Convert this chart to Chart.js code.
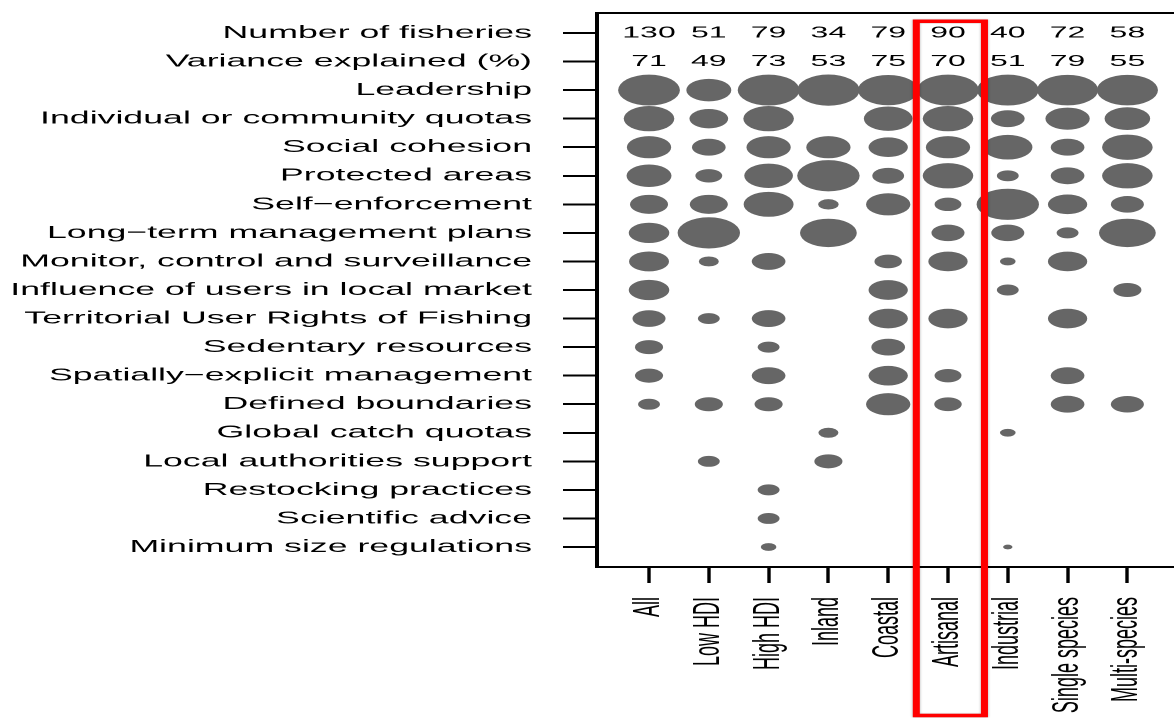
<!DOCTYPE html>
<html><head><meta charset="utf-8">
<script src="https://cdn.jsdelivr.net/npm/chart.js@4/dist/chart.umd.min.js"></script>
<style>
html,body{margin:0;padding:0;background:#fff;overflow:hidden;width:1174px;height:718px;}
#wrap{position:absolute;left:0;top:0;width:592px;height:718px;transform:scaleX(2);transform-origin:0 0;}
canvas{display:block;}
</style></head><body>
<div id="wrap"><canvas id="c" width="592" height="718"></canvas></div>
<script>
// ---- data ----
const groups = ["All","Low HDI","High HDI","Inland","Coastal","Artisanal","Industrial","Single species","Multi-species"];
const rowLabels = ["Number of fisheries","Variance explained (%)","Leadership","Individual or community quotas",
  "Social cohesion","Protected areas","Self\u2212enforcement","Long\u2212term management plans",
  "Monitor, control and surveillance","Influence of users in local market","Territorial User Rights of Fishing",
  "Sedentary resources","Spatially\u2212explicit management","Defined boundaries","Global catch quotas",
  "Local authorities support","Restocking practices","Scientific advice","Minimum size regulations"];
const nFisheries = [130,51,79,34,79,90,40,72,58];
const varianceExplained = [71,49,73,53,75,70,51,79,55];
const highlighted = "Artisanal";
// relative importance (0-100) of each factor, in rowLabels order from "Leadership"; 0 = not selected
const impAll        = [99,81,71,72,61,65,64,65,53,45,45,35,0,0,0,0,0];
const impLowHDI     = [72,62,54,43,61,100,32,0,35,0,0,45,0,35,0,0,0];
const impHighHDI    = [99,81,71,78,80,0,54,0,54,35,54,45,0,0,35,35,25];
const impInland     = [100,0,71,100,33,91,0,0,0,0,0,0,32,45,0,0,0];
const impCoastal    = [97,78,63,51,71,0,44,63,63,54,63,71,0,0,0,0,0];
const impArtisanal  = [99,81,71,81,43,53,63,0,63,0,43,44,0,0,0,0,0];
const impIndustrial = [99,54,79,35,100,53,25,35,0,0,0,0,25,0,0,0,15];
const impSingle     = [98,71,54,54,63,35,63,0,63,0,54,54,0,0,0,0,0];
const impMulti      = [98,73,81,81,53,91,0,45,0,0,0,53,0,0,0,0,0];

const columns = [impAll,impLowHDI,impHighHDI,impInland,impCoastal,impArtisanal,impIndustrial,impSingle,impMulti];
const MAX_R = 15.6;
const points = [];
columns.forEach((col, ci) => col.forEach((v, ri) => {
  if (v > 0) points.push({x: ci, y: ri + 2, r: v / 100 * MAX_R});
}));

const FONT = '"Liberation Sans", Arial, Helvetica, sans-serif';

const overlay = {
  id: 'overlay',
  afterDraw(chart) {
    const {ctx, chartArea: a, scales: {x, y}} = chart;
    ctx.save();
    ctx.strokeStyle = '#000'; ctx.lineWidth = 2;
    ctx.beginPath(); ctx.moveTo(a.left - 1, a.top); ctx.lineTo(a.right, a.top); ctx.stroke();
    ctx.font = '16px ' + FONT; ctx.fillStyle = '#000';
    ctx.textAlign = 'center'; ctx.textBaseline = 'middle';
    nFisheries.forEach((v, i) => ctx.fillText(String(v), x.getPixelForValue(i), y.getPixelForValue(0)));
    varianceExplained.forEach((v, i) => ctx.fillText(String(v), x.getPixelForValue(i), y.getPixelForValue(1)));
    const hi = groups.indexOf(highlighted);
    const l = x.getPixelForValue(hi - 0.53), r = x.getPixelForValue(hi + 0.61);
    const t = y.getPixelForValue(-0.41), b = y.getPixelForValue(23.9);
    ctx.shadowColor = 'rgba(0,0,0,0.35)'; ctx.shadowBlur = 3;
    ctx.strokeStyle = '#ff0000'; ctx.lineWidth = 3.5;
    ctx.strokeRect(l, t, r - l, b - t);
    ctx.restore();
  }
};

new Chart(document.getElementById('c'), {
  type: 'bubble',
  data: { datasets: [{ data: points, backgroundColor: '#666666', borderWidth: 0, hoverBorderWidth: 0, clip: false }] },
  options: {
    responsive: false, animation: false, devicePixelRatio: 2, events: [],
    layout: { autoPadding: false, padding: { top: 13, right: 2, left: 0, bottom: 0 } },
    plugins: { legend: { display: false }, tooltip: { enabled: false } },
    scales: {
      x: {
        type: 'linear', min: -0.87, max: 8.88,
        afterBuildTicks: s => { s.ticks = groups.map((_, i) => ({ value: i })); },
        afterFit: s => { s.height = 151; s.paddingLeft = 0; s.paddingRight = 0; s.paddingTop = 0; s.paddingBottom = 0; },
        ticks: { autoSkip: false, minRotation: 90, maxRotation: 90, padding: 14, color: '#000',
                 font: { family: FONT, size: 18 }, callback: v => groups[v] },
        grid: { drawOnChartArea: false, drawTicks: true, tickLength: 16, tickWidth: 1.7, tickColor: '#000' },
        border: { display: true, color: '#000', width: 2 }
      },
      y: {
        type: 'linear', reverse: true, min: -0.7, max: 18.7,
        afterBuildTicks: s => { s.ticks = rowLabels.map((_, i) => ({ value: i })); },
        afterFit: s => { s.width = 298.5; s.paddingLeft = 0; s.paddingRight = 0; s.paddingTop = 0; s.paddingBottom = 0; },
        ticks: { autoSkip: false, padding: 15.5, color: '#000',
                 font: { family: FONT, size: 17.85 }, callback: v => rowLabels[v] },
        grid: { drawOnChartArea: false, drawTicks: true, tickLength: 17, tickWidth: 2, tickColor: '#000' },
        border: { display: true, color: '#000', width: 2 }
      }
    }
  },
  plugins: [overlay]
});
</script>
</body></html>
